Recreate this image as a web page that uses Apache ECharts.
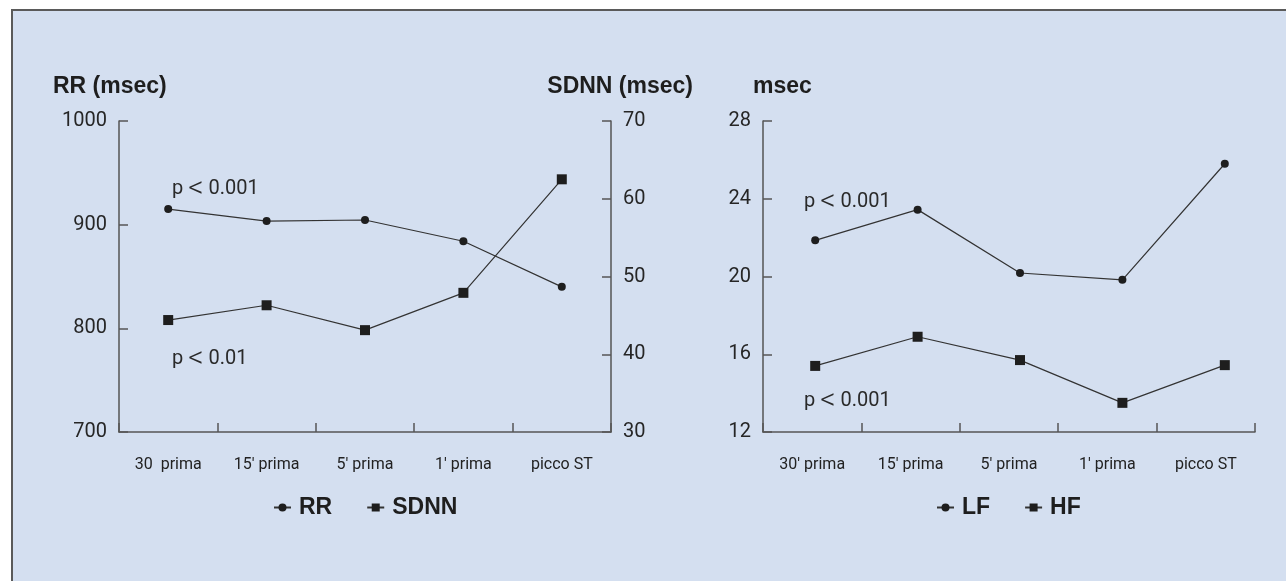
<!DOCTYPE html>
<html><head><meta charset="utf-8">
<script src="https://cdn.jsdelivr.net/npm/echarts@6/dist/echarts.min.js"></script>
<style>html,body{margin:0;padding:0;background:#fff}#c{width:1286px;height:581px}</style>
</head><body><div id="c"></div>
<script>
const categoriesLeft = ['30  prima', "15' prima", "5' prima", "1' prima", 'picco ST'];
const categoriesRight = ["30' prima", "15' prima", "5' prima", "1' prima", 'picco ST'];
const rrValues = [915, 903.5, 904.5, 884, 840];
const sdnnValues = [44.4, 46.3, 43.1, 47.9, 62.5];
const lfValues = [21.86, 23.44, 20.18, 19.83, 25.8];
const hfValues = [15.4, 16.9, 15.7, 13.5, 15.44];
const rrAxis = {min: 700, max: 1000, interval: 100};
const sdnnAxis = {min: 30, max: 70, interval: 10};
const msecAxis = {min: 12, max: 28, interval: 4};
const pValues = ['0.001', '0.01', '0.001', '0.001'];

const numFont = 'Roboto, "Liberation Sans", sans-serif';
const condFont = 'Roboto, sans-serif';
const boldFont = '"Liberation Sans", Roboto, sans-serif';
const axisCol = '#555';
const ink = '#1e1e1e';

const chart = echarts.init(document.getElementById('c'), null, {renderer: 'canvas'});

function yAx(gridIndex, position, cfg) {
  return Object.assign({
    type: 'value', gridIndex, position,
    axisLine: {show: true, lineStyle: {color: axisCol, width: 1.5}},
    axisTick: {show: true, inside: true, length: 9, lineStyle: {color: axisCol, width: 1.5}},
    axisLabel: {color: '#262626', fontFamily: numFont, fontSize: 20, margin: 12, formatter: v => String(v)},
    splitLine: {show: false}
  }, cfg);
}
function xAx(gridIndex, data) {
  return {
    type: 'category', gridIndex, data, boundaryGap: true,
    axisLine: {show: true, lineStyle: {color: axisCol, width: 1.5}},
    axisTick: {show: true, inside: true, length: 9, lineStyle: {color: axisCol, width: 1.5}},
    axisLabel: {color: '#222', fontFamily: condFont, fontSize: 16, margin: 25}
  };
}
function lineSeries(name, xi, yi, data, symbol, size) {
  return {
    name, type: 'line', xAxisIndex: xi, yAxisIndex: yi, data,
    symbol, symbolSize: size,
    lineStyle: {color: '#333', width: 1.2},
    itemStyle: {color: ink},
    emphasis: {disabled: true}, animation: false
  };
}
const pText = (x, y, v) => ({type: 'text', left: x, top: y, silent: true,
  style: {text: '{a|p} {b|<} {a|' + v + '}', font: '20px ' + numFont,
    rich: {a: {fontSize: 20, fontFamily: numFont, fill: '#2a2a2a', color: '#2a2a2a'},
           b: {fontSize: 30, fontFamily: numFont, fontWeight: 300, color: '#2a2a2a', fill: '#2a2a2a'}}}});
const titleText = (x, y, t, align) => ({type: 'text', x, y, silent: true,
  style: {text: t, fill: ink, font: 'bold 23px ' + boldFont, align: align || 'left', verticalAlign: 'middle'}});
const legendCfg = (names, left) => ({data: names, left, top: 491, itemWidth: 17, itemHeight: 10, itemGap: 34,
  textStyle: {fontFamily: boldFont, fontWeight: 'bold', fontSize: 23, color: ink, padding: [0, 0, 0, 3]}});

chart.setOption({
  backgroundColor: '#fff',
  animation: false,
  grid: [
    {left: 119, right: 675, top: 121, bottom: 149},
    {left: 763, right: 31, top: 121, bottom: 149},
    {left: 764, right: 10, top: 121, bottom: 149}
  ],
  xAxis: [xAx(0, categoriesLeft), xAx(1, categoriesRight),
    {type: 'category', gridIndex: 2, data: categoriesRight, boundaryGap: true, show: false}],
  yAxis: [
    yAx(0, 'left', rrAxis),
    yAx(0, 'right', sdnnAxis),
    yAx(1, 'left', msecAxis),
    Object.assign({type: 'value', gridIndex: 2, show: false, splitLine: {show: false}}, msecAxis)
  ],
  legend: [legendCfg(['RR', 'SDNN'], 268), legendCfg(['LF', 'HF'], 931)],
  series: [
    lineSeries('RR', 0, 0, rrValues, 'circle', 8),
    lineSeries('SDNN', 0, 1, sdnnValues, 'rect', 10),
    lineSeries('LF', 2, 3, lfValues, 'circle', 8),
    lineSeries('HF', 2, 3, hfValues, 'rect', 10)
  ],
  graphic: [
    {type: 'rect', z: -10, silent: true, shape: {x: 12, y: 10, width: 1300, height: 600},
     style: {fill: '#d4dff0', stroke: '#5a5a5a', lineWidth: 2}},
    titleText(53, 87, 'RR (msec)'),
    titleText(693, 87, 'SDNN (msec)', 'right'),
    titleText(753, 87, 'msec'),
    pText(172, 174, pValues[0]),
    pText(172, 344, pValues[1]),
    pText(804, 187, pValues[2]),
    pText(804, 386, pValues[3])
  ]
});
</script></body></html>
